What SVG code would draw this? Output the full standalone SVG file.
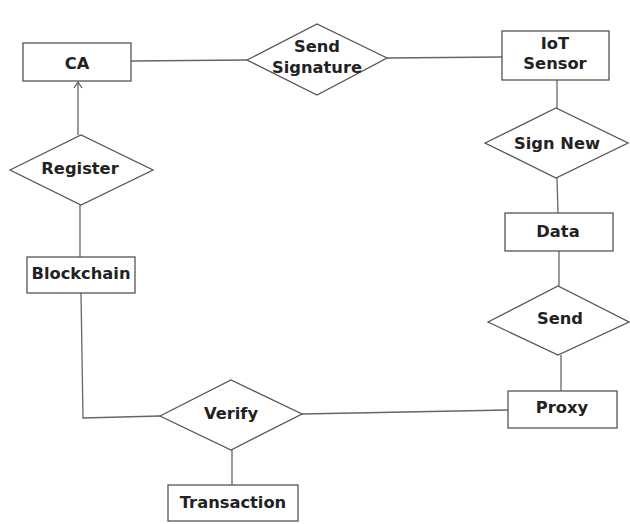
<svg xmlns="http://www.w3.org/2000/svg" width="630" height="524" viewBox="0 0 630 524">
<defs>
<marker id="open" markerWidth="10" markerHeight="10" refX="8" refY="5" orient="auto" markerUnits="userSpaceOnUse">
<path d="M2,1 L8,5 L2,9" fill="none" stroke="#555" stroke-width="1.2"/>
</marker>
</defs>
<style>
.box{fill:#fff;stroke:#555;stroke-width:1.3}
.rel{fill:#fff;stroke:#555;stroke-width:1.3}
.edge{fill:none;stroke:#666;stroke-width:1.3}
text{font-family:"DejaVu Sans","Liberation Sans",sans-serif;font-weight:bold;font-size:16.3px;fill:#222;text-anchor:middle;dominant-baseline:central}
</style>
<rect width="630" height="524" fill="#fff"/>
<g id="connectors">
<line class="edge" x1="131" y1="61" x2="247" y2="60"/>
<line class="edge" x1="387" y1="58" x2="502" y2="57"/>
<line class="edge" x1="557" y1="80" x2="557" y2="108"/>
<line class="edge" x1="557" y1="178" x2="558" y2="213"/>
<line class="edge" x1="559" y1="251" x2="559" y2="286"/>
<line class="edge" x1="561" y1="355" x2="561" y2="391"/>
<line class="edge" x1="508" y1="410" x2="302" y2="414"/>
<polyline class="edge" points="160,416 83,418 81,293"/>
<line class="edge" x1="232" y1="450" x2="232" y2="485"/>
<line class="edge" x1="80" y1="257" x2="80" y2="205"/>
<line class="edge" x1="78" y1="135" x2="78" y2="82" marker-end="url(#open)"/>
</g>
<g id="ca"><rect class="box" x="23" y="43" width="108" height="38"/><text x="77" y="63">CA</text></g>
<g id="send-signature"><polygon class="rel" points="247,60 317,24 387,58 317,95"/><text x="317" y="46">Send</text><text x="317" y="67">Signature</text></g>
<g id="iot-sensor"><rect class="box" x="502" y="31" width="107" height="49"/><text x="555" y="43">IoT</text><text x="555" y="63">Sensor</text></g>
<g id="sign-new"><polygon class="rel" points="485,143 556,108 628,143 556,178"/><text x="557" y="143">Sign New</text></g>
<g id="data"><rect class="box" x="505" y="213" width="108" height="38"/><text x="558" y="231">Data</text></g>
<g id="send"><polygon class="rel" points="488,322 558,286 629,322 558,355"/><text x="560" y="318">Send</text></g>
<g id="proxy"><rect class="box" x="508" y="391" width="109" height="37"/><text x="562" y="407">Proxy</text></g>
<g id="verify"><polygon class="rel" points="160,416 231,380 302,414 231,450"/><text x="231" y="413">Verify</text></g>
<g id="transaction"><rect class="box" x="168" y="485" width="130" height="36"/><text x="233" y="502">Transaction</text></g>
<g id="blockchain"><rect class="box" x="27" y="257" width="108" height="36"/><text x="81" y="273">Blockchain</text></g>
<g id="register"><polygon class="rel" points="10,170 81,135 153,170 81,205"/><text x="80" y="168">Register</text></g>
</svg>
